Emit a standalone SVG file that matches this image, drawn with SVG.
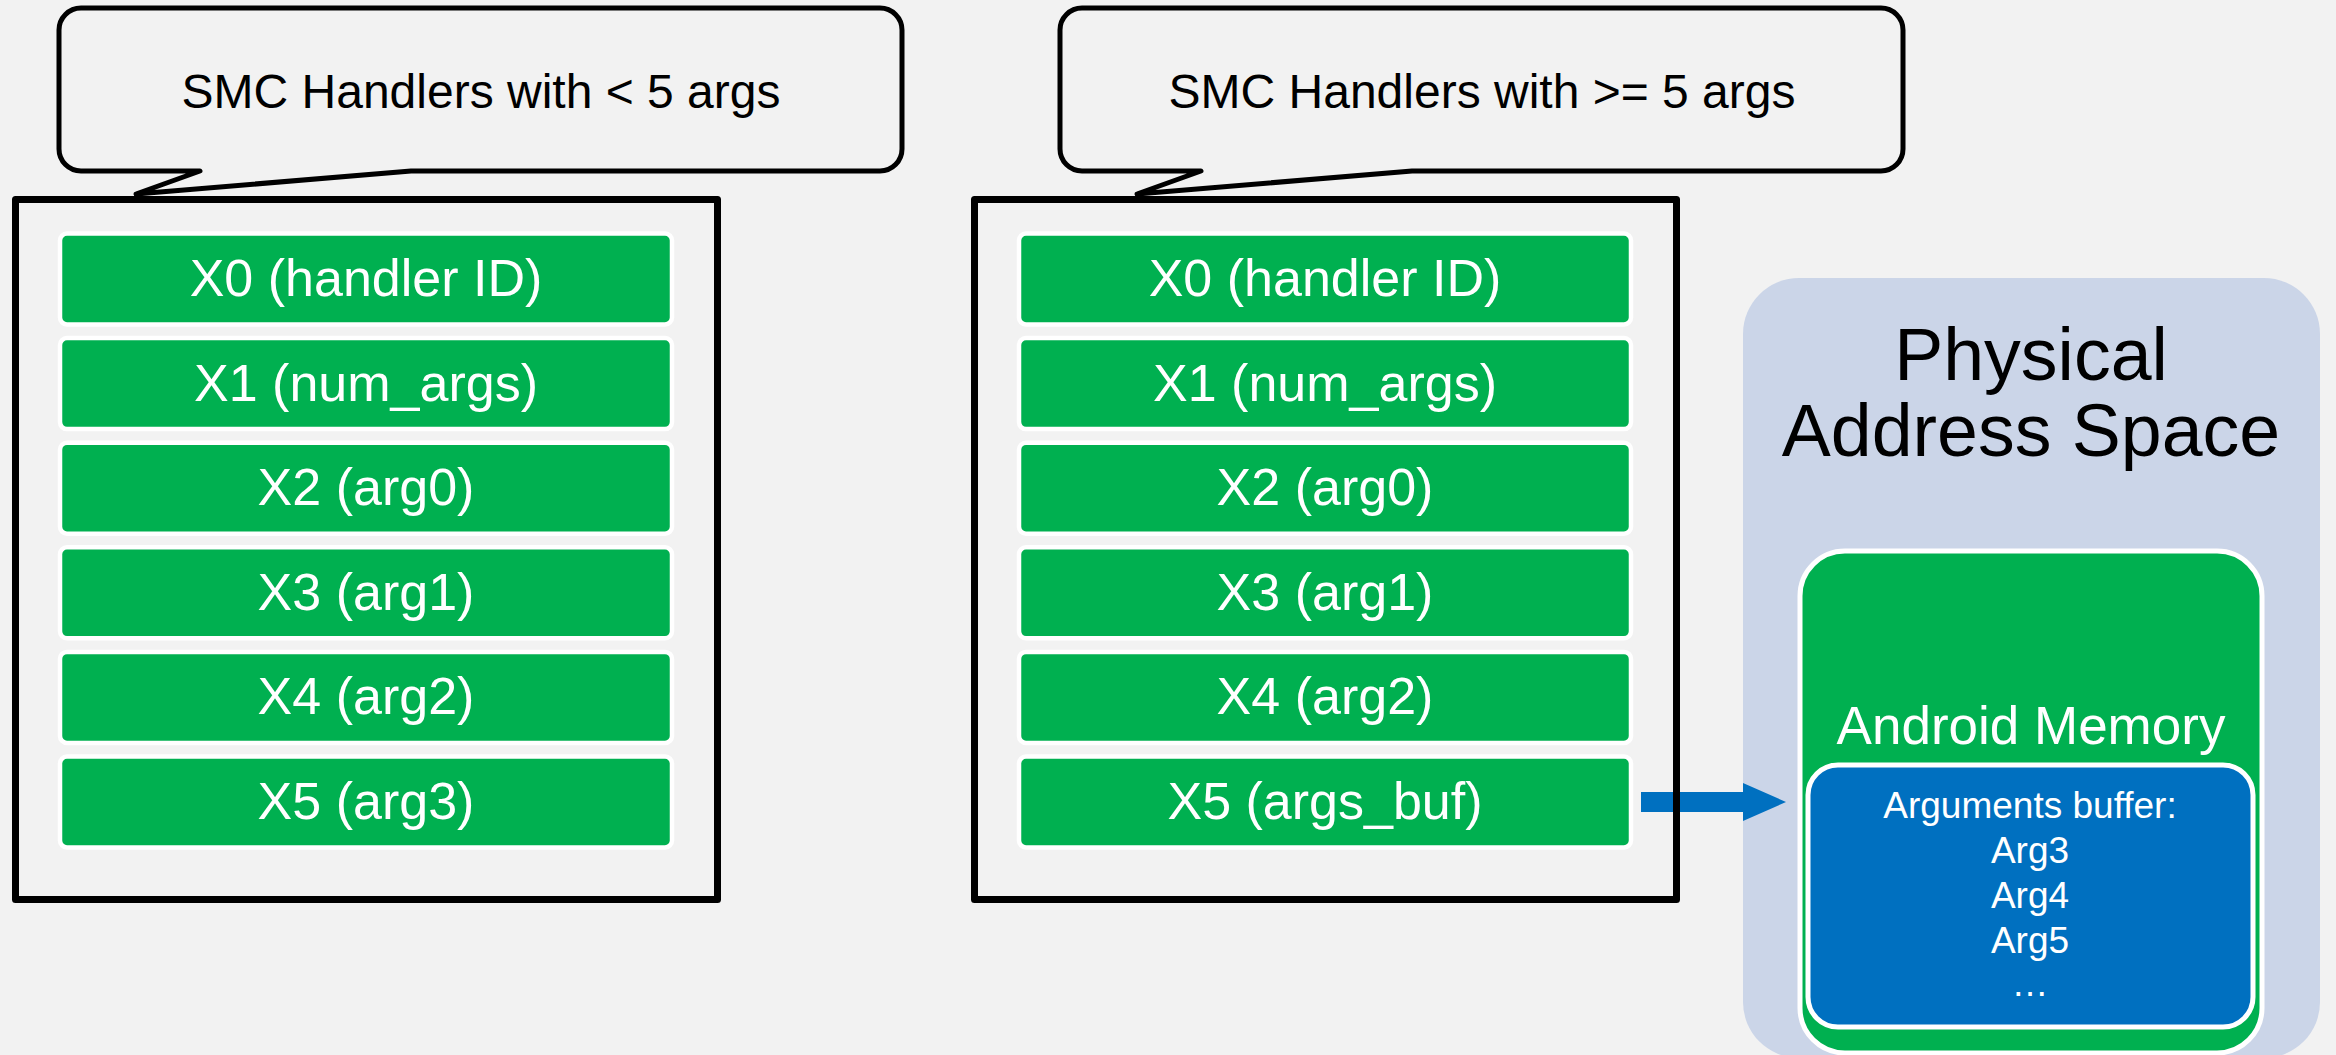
<svg xmlns="http://www.w3.org/2000/svg" width="2336" height="1055" viewBox="0 0 2336 1055">
  <style>
    text { font-family: "Liberation Sans", Arial, sans-serif; text-anchor: middle; }
    .bubble { fill: #F2F2F2; stroke: #000; stroke-width: 5; stroke-linejoin: round; }
    .bubble-text { font-size: 48px; fill: #000; }
    .frame { fill: none; stroke: #000; stroke-width: 7; stroke-linejoin: round; }
    .reg { fill: #00B050; stroke: #FFFFFF; stroke-width: 4.5; }
    .reg-text { font-size: 52px; fill: #FFFFFF; }
    .pas { fill: #CBD5E8; }
    .pas-text { font-size: 73.5px; fill: #000; }
    .mem { fill: #00B050; stroke: #FFFFFF; stroke-width: 5; }
    .mem-text { font-size: 53px; fill: #FFFFFF; }
    .buf { fill: #0070C0; stroke: #FFFFFF; stroke-width: 5; }
    .buf-text { font-size: 37px; fill: #FFFFFF; }
    .arrow { fill: #0070C0; }
  </style>

  <rect x="0" y="0" width="2336" height="1055" fill="#F2F2F2"/>

  <!-- physical address space panel with memory regions -->
  <g id="physical-address-space">
    <rect class="pas" x="1743" y="278" width="577" height="780" rx="56" ry="56"/>
    <text class="pas-text" x="2031" y="380">Physical</text>
    <text class="pas-text" x="2031" y="456">Address Space</text>
  </g>
  <g id="android-memory">
    <rect class="mem" x="1800" y="551" width="462" height="502" rx="45" ry="45"/>
    <text class="mem-text" x="2031" y="744">Android Memory</text>
  </g>
  <g id="arguments-buffer">
    <rect class="buf" x="1808" y="765" width="445" height="262" rx="30" ry="30"/>
    <text class="buf-text" x="2030" y="818">Arguments buffer:</text>
    <text class="buf-text" x="2030" y="863">Arg3</text>
    <text class="buf-text" x="2030" y="908">Arg4</text>
    <text class="buf-text" x="2030" y="953">Arg5</text>
    <text class="buf-text" x="2030" y="996">…</text>
  </g>

  <!-- connectors -->
  <g id="connectors">
    <polygon class="arrow" points="1641,792 1743,792 1743,783 1786,802 1743,821 1743,812 1641,812"/>
  </g>

  <!-- left: handlers with fewer than 5 args -->
  <g id="callout-lt5">
    <path class="bubble" d="M81,8 H880 A22,22 0 0 1 902,30 V149 A22,22 0 0 1 880,171 H411 L136,194 L200,171 H81 A22,22 0 0 1 59,149 V30 A22,22 0 0 1 81,8 Z"/>
    <text class="bubble-text" x="481" y="108">SMC Handlers with &lt; 5 args</text>
  </g>
  <g id="regs-lt5">
    <rect class="frame" x="15.5" y="199.5" width="702" height="700"/>
    <g id="lt5-x0"><rect class="reg" x="60" y="233.5" width="612" height="91" rx="7"/><text class="reg-text" x="366" y="296">X0 (handler ID)</text></g>
    <g id="lt5-x1"><rect class="reg" x="60" y="338.1" width="612" height="91" rx="7"/><text class="reg-text" x="366" y="401">X1 (num_args)</text></g>
    <g id="lt5-x2"><rect class="reg" x="60" y="442.7" width="612" height="91" rx="7"/><text class="reg-text" x="366" y="505">X2 (arg0)</text></g>
    <g id="lt5-x3"><rect class="reg" x="60" y="547.3" width="612" height="91" rx="7"/><text class="reg-text" x="366" y="610">X3 (arg1)</text></g>
    <g id="lt5-x4"><rect class="reg" x="60" y="651.9" width="612" height="91" rx="7"/><text class="reg-text" x="366" y="714">X4 (arg2)</text></g>
    <g id="lt5-x5"><rect class="reg" x="60" y="756.5" width="612" height="91" rx="7"/><text class="reg-text" x="366" y="819">X5 (arg3)</text></g>
  </g>

  <!-- right: handlers with 5 or more args -->
  <g id="callout-ge5">
    <path class="bubble" d="M1082,8 H1881 A22,22 0 0 1 1903,30 V149 A22,22 0 0 1 1881,171 H1412 L1137,194 L1201,171 H1082 A22,22 0 0 1 1060,149 V30 A22,22 0 0 1 1082,8 Z"/>
    <text class="bubble-text" x="1482" y="108">SMC Handlers with &gt;= 5 args</text>
  </g>
  <g id="regs-ge5">
    <rect class="frame" x="974.5" y="199.5" width="702" height="700"/>
    <g id="ge5-x0"><rect class="reg" x="1019" y="233.5" width="612" height="91" rx="7"/><text class="reg-text" x="1325" y="296">X0 (handler ID)</text></g>
    <g id="ge5-x1"><rect class="reg" x="1019" y="338.1" width="612" height="91" rx="7"/><text class="reg-text" x="1325" y="401">X1 (num_args)</text></g>
    <g id="ge5-x2"><rect class="reg" x="1019" y="442.7" width="612" height="91" rx="7"/><text class="reg-text" x="1325" y="505">X2 (arg0)</text></g>
    <g id="ge5-x3"><rect class="reg" x="1019" y="547.3" width="612" height="91" rx="7"/><text class="reg-text" x="1325" y="610">X3 (arg1)</text></g>
    <g id="ge5-x4"><rect class="reg" x="1019" y="651.9" width="612" height="91" rx="7"/><text class="reg-text" x="1325" y="714">X4 (arg2)</text></g>
    <g id="ge5-x5"><rect class="reg" x="1019" y="756.5" width="612" height="91" rx="7"/><text class="reg-text" x="1325" y="819">X5 (args_buf)</text></g>
  </g>
</svg>
